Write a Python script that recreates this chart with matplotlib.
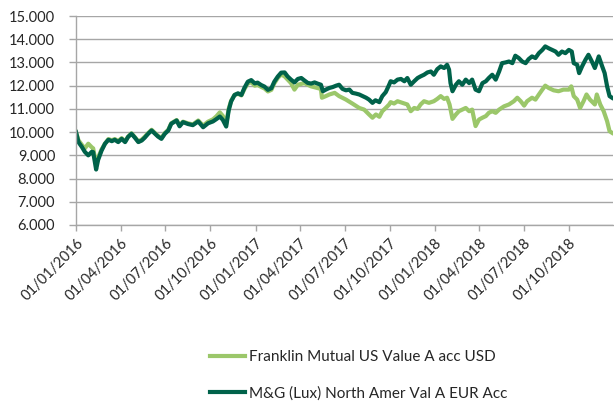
import pandas as pd
import matplotlib
matplotlib.use('Agg')
import matplotlib.pyplot as plt
import matplotlib.dates as mdates
from matplotlib.ticker import FuncFormatter, MultipleLocator

# values (growth of 10.000)
early_dates = [
    '2016-01-01', '2016-01-06', '2016-01-13', '2016-01-19', '2016-01-26', '2016-02-02', '2016-02-05', '2016-02-11', '2016-02-15', '2016-02-22', '2016-02-29',
    '2016-03-07', '2016-03-14', '2016-03-20', '2016-03-27', '2016-04-03', '2016-04-10', '2016-04-16', '2016-04-23', '2016-04-30',
    '2016-05-07', '2016-05-14', '2016-05-20', '2016-05-27', '2016-06-03', '2016-06-10', '2016-06-16', '2016-06-23', '2016-06-30',
    '2016-07-07', '2016-07-13', '2016-07-24', '2016-07-30', '2016-08-06', '2016-08-16', '2016-08-26', '2016-09-06', '2016-09-16', '2016-09-26',
    '2016-10-06', '2016-10-13', '2016-10-20', '2016-10-26', '2016-11-02', '2016-11-07', '2016-11-12', '2016-11-19', '2016-11-26',
    '2016-12-03', '2016-12-09', '2016-12-16', '2016-12-23', '2016-12-30',
    '2017-01-05', '2017-01-12', '2017-01-19', '2017-01-26', '2017-02-02', '2017-02-08', '2017-02-15', '2017-02-22',
]

mg_dates = early_dates + [
    '2017-03-01', '2017-03-07', '2017-03-14', '2017-03-21', '2017-03-28', '2017-04-04', '2017-04-10', '2017-04-17', '2017-04-24',
    '2017-05-01', '2017-05-07', '2017-05-14', '2017-05-18', '2017-05-24', '2017-05-31', '2017-06-07', '2017-06-14', '2017-06-20', '2017-06-27',
    '2017-07-04', '2017-07-11', '2017-07-17', '2017-07-24', '2017-07-31', '2017-08-07', '2017-08-14', '2017-08-20', '2017-08-27',
    '2017-09-02', '2017-09-10', '2017-09-16', '2017-09-23', '2017-09-30',
    '2017-10-03', '2017-10-10', '2017-10-17', '2017-10-24', '2017-10-31', '2017-11-06', '2017-11-13', '2017-11-20', '2017-11-27',
    '2017-12-03', '2017-12-10', '2017-12-17', '2017-12-24', '2017-12-30',
    '2018-01-06', '2018-01-13', '2018-01-20', '2018-01-26', '2018-01-30', '2018-02-02', '2018-02-06', '2018-02-13', '2018-02-19', '2018-02-26',
    '2018-03-05', '2018-03-12', '2018-03-18', '2018-03-25', '2018-04-01', '2018-04-08', '2018-04-15', '2018-04-21', '2018-04-28',
    '2018-05-05', '2018-05-12', '2018-05-18', '2018-05-25', '2018-06-01', '2018-06-08', '2018-06-14', '2018-06-21', '2018-06-28',
    '2018-07-05', '2018-07-11', '2018-07-18', '2018-07-25', '2018-08-01', '2018-08-08', '2018-08-14', '2018-08-21', '2018-08-28',
    '2018-09-04', '2018-09-10', '2018-09-17', '2018-09-24', '2018-10-01', '2018-10-07', '2018-10-11', '2018-10-18', '2018-10-22', '2018-10-28',
    '2018-11-04', '2018-11-10', '2018-11-17', '2018-11-23', '2018-12-01', '2018-12-08', '2018-12-13', '2018-12-18', '2018-12-23', '2018-12-28',
]
mg_values = [
    10000, 9570, 9360, 9150, 9000, 9150, 9140, 8390, 8800, 9200, 9500,
    9670, 9610, 9670, 9570, 9710, 9570, 9790, 9930, 9760,
    9570, 9640, 9760, 9930, 10070, 9930, 9810, 9710, 9930,
    10070, 10360, 10500, 10250, 10430, 10350, 10300, 10460, 10210, 10380,
    10460, 10560, 10670, 10530, 10240, 10930, 11320, 11600, 11670,
    11600, 11900, 12170, 12240, 12100,
    12130, 12030, 11960, 11820, 11890, 12170, 12390, 12560,
    12570, 12400, 12260, 12140, 12290, 12330, 12230, 12120, 12090,
    12140, 12090, 12040, 11760, 11830, 11900, 11940, 12000, 12040, 11860,
    11800, 11830, 11690, 11660, 11620, 11550, 11480, 11400, 11260,
    11370, 11290, 11550, 11720, 12040,
    12190, 12140, 12260, 12290, 12190, 12330, 12040, 12190, 12330,
    12400, 12470, 12570, 12610, 12470,
    12710, 12830, 12760, 12900, 12690, 12110, 11760, 12040, 12190, 12040,
    12260, 12110, 12260, 11830, 11760, 12110, 12190, 12330, 12470,
    12260, 12610, 12970, 13000, 13040, 12970, 13290, 13190, 13040,
    12970, 13140, 13260, 13190, 13400, 13540, 13690, 13610, 13540,
    13470, 13330, 13470, 13400, 13540, 13470, 12970, 12900, 12540, 12830,
    13120, 13330, 13040, 12760, 13260, 12830, 12540, 11970, 11550, 11480,
]

franklin_dates = early_dates + [
    '2017-03-01', '2017-03-14', '2017-03-21', '2017-03-28', '2017-04-10', '2017-04-24',
    '2017-05-07', '2017-05-14', '2017-05-16', '2017-05-24', '2017-05-31', '2017-06-11', '2017-06-20',
    '2017-07-04', '2017-07-17', '2017-07-31', '2017-08-10', '2017-08-20', '2017-08-27',
    '2017-09-03', '2017-09-10', '2017-09-16', '2017-09-23', '2017-09-30',
    '2017-10-03', '2017-10-10', '2017-10-17', '2017-10-27', '2017-11-06', '2017-11-13', '2017-11-20', '2017-11-27',
    '2017-12-03', '2017-12-10', '2017-12-20', '2017-12-30',
    '2018-01-06', '2018-01-13', '2018-01-20', '2018-01-26', '2018-01-31', '2018-02-06', '2018-02-13', '2018-02-19', '2018-02-26',
    '2018-03-05', '2018-03-12', '2018-03-18', '2018-03-25', '2018-04-01', '2018-04-08', '2018-04-15', '2018-04-21', '2018-04-28',
    '2018-05-05', '2018-05-12', '2018-05-22', '2018-06-01', '2018-06-11', '2018-06-18', '2018-06-25',
    '2018-07-02', '2018-07-08', '2018-07-18', '2018-07-25', '2018-08-01', '2018-08-08', '2018-08-14', '2018-08-21', '2018-08-31',
    '2018-09-10', '2018-09-20', '2018-10-01', '2018-10-06', '2018-10-11', '2018-10-18', '2018-10-24', '2018-10-31',
    '2018-11-06', '2018-11-13', '2018-11-23', '2018-11-27', '2018-12-04', '2018-12-11', '2018-12-18', '2018-12-23', '2018-12-28',
]
franklin_values = [
    10000, 9650, 9450, 9300, 9500, 9350, 9300, 8600, 8900, 9250, 9500,
    9700, 9650, 9700, 9620, 9740, 9600, 9800, 9950, 9780,
    9600, 9680, 9800, 9960, 10100, 9960, 9840, 9750, 9960,
    10100, 10380, 10520, 10300, 10450, 10380, 10330, 10500, 10280, 10450,
    10550, 10680, 10850, 10700, 10350, 11000, 11350, 11600, 11650,
    11580, 11850, 12100, 12150, 12000,
    12030, 11950, 11880, 11750, 11820, 12100, 12330, 12480,
    12400, 12110, 11830, 12040, 12110, 11970,
    11900, 11860, 11480, 11550, 11620, 11690, 11550,
    11400, 11230, 11040, 10970, 10760, 10620,
    10760, 10660, 10900, 11040, 11190,
    11290, 11230, 11330, 11260, 11190, 10900, 11040, 11000,
    11190, 11330, 11260, 11330,
    11430, 11550, 11430, 11480, 11190, 10570, 10760, 10900, 10970,
    11040, 10900, 10970, 10260, 10540, 10620, 10690, 10830, 10900,
    10830, 10970, 11110, 11190, 11330, 11480, 11330,
    11140, 11330, 11480, 11400, 11620, 11830, 12000, 11900, 11800,
    11760, 11830, 11830, 11970, 11550, 11400, 11040, 11330,
    11620, 11400, 11190, 11620, 11190, 10900, 10470, 10040, 9970,
]

series_names = ['Franklin Mutual US Value A acc USD', 'M&G (Lux) North Amer Val A EUR Acc']
series_colors = ['#9BC76A', '#00624A']

GREY = '#A6A6A6'
TEXT = '#262626'


def thousands(v, pos):
    return f'{v:,.0f}'.replace(',', '.')


def main():
    assert len(mg_dates) == len(mg_values)
    assert len(franklin_dates) == len(franklin_values)

    plt.rcParams['font.family'] = ['Lato', 'DejaVu Sans']

    fig = plt.figure(figsize=(6.14, 4.07), dpi=100)
    ax = fig.add_axes([76 / 614, 1 - 225 / 407, 537 / 614, 209 / 407])

    ax.plot(pd.to_datetime(franklin_dates), franklin_values, color=series_colors[0],
            lw=3, solid_joinstyle='round', label=series_names[0])
    ax.plot(pd.to_datetime(mg_dates), mg_values, color=series_colors[1],
            lw=3, solid_joinstyle='round', label=series_names[1])

    ax.set_ylim(6000, 15000)
    ax.yaxis.set_major_locator(MultipleLocator(1000))
    ax.yaxis.set_major_formatter(FuncFormatter(thousands))
    ax.set_xlim(pd.Timestamp('2016-01-01'), pd.Timestamp('2018-12-30'))
    ax.xaxis.set_major_locator(mdates.MonthLocator(bymonth=[1, 4, 7, 10]))
    ax.xaxis.set_major_formatter(mdates.DateFormatter('%d/%m/%Y'))

    ax.grid(axis='y', color=GREY, lw=1)
    ax.set_axisbelow(True)
    for s in ['top', 'right']:
        ax.spines[s].set_visible(False)
    for s in ['left', 'bottom']:
        ax.spines[s].set_color(GREY)
        ax.spines[s].set_linewidth(1)

    ax.tick_params(axis='y', length=5, width=1, color=GREY, pad=10, labelsize=10.5, labelcolor=TEXT)
    ax.tick_params(axis='x', length=4, width=1, color=GREY, pad=4, labelsize=10.5, labelcolor=TEXT)
    for lab in ax.get_xticklabels():
        lab.set_rotation(45)
        lab.set_ha('right')
        lab.set_rotation_mode('anchor')

    fig.legend(loc='upper left', bbox_to_anchor=(210 / 614, 1 - 350 / 407), frameon=False,
               borderpad=0, borderaxespad=0, handlelength=2.3, handletextpad=0.25,
               labelspacing=1.45, fontsize=11, labelcolor=TEXT)

    fig.savefig('out.png', dpi=100)


if __name__ == '__main__':
    main()
